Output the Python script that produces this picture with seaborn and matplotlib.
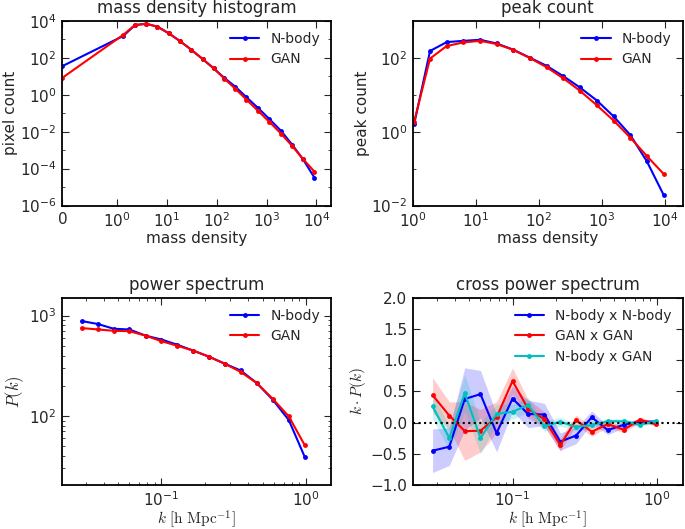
import numpy as np
import matplotlib
matplotlib.use("Agg")
import matplotlib.pyplot as plt
import matplotlib.ticker as mticker
import seaborn as sns

# mass density histogram
hist_x = [0, 1.32, 2.26, 3.8, 6.4, 10.8, 18.2, 30.7, 51.6, 85.7, 142, 236, 392, 661, 1120, 1950, 3240, 5370, 9120]
hist_nbody = [35, 1550, 6000, 7100, 4900, 2150, 810, 275, 87, 27.5, 8.1, 2.7, 0.74, 0.20, 0.050, 0.011, 0.0020, 3.2e-4, 3.2e-5]
hist_gan = [8.1, 1800, 6000, 7100, 4900, 2150, 810, 275, 87, 27.5, 7.4, 2.1, 0.55, 0.14, 0.035, 0.0078, 0.0017, 3.3e-4, 6.8e-5]

# peak count
peak_x = [1.04, 1.86, 3.42, 6.3, 11.6, 21.3, 39, 71, 132, 243, 446, 830, 1530, 2820, 5150, 9500]
peak_nbody = [1.6, 154, 268, 290, 310, 246, 167, 102, 61, 32, 15.8, 7.0, 2.6, 0.81, 0.158, 0.0195]
peak_gan = [1.86, 96, 210, 263, 290, 237, 165, 100, 56, 28, 12.9, 5.2, 2.0, 0.69, 0.22, 0.072]

# power spectrum
k = [0.028, 0.0365, 0.0467, 0.060, 0.0776, 0.100, 0.128, 0.166, 0.214, 0.275, 0.353, 0.456, 0.589, 0.76, 0.98]
pk_nbody = [884, 824, 740, 728, 632, 578, 514, 448, 389, 331, 284, 213, 145, 91, 39]
pk_gan = [752, 728, 706, 700, 632, 556, 502, 448, 389, 331, 275, 213, 148, 99, 51]

# cross power spectrum (mean and spread)
cross_nn = [-0.45, -0.386, 0.38, 0.457, -0.168, 0.386, 0.141, 0.13, -0.304, -0.207, 0.087, -0.12, -0.033, 0.016, 0.016]
cross_gg = [0.44, 0.114, -0.136, -0.13, 0.087, 0.668, 0.223, 0.054, -0.359, 0.043, -0.147, -0.022, -0.114, 0.049, -0.027]
cross_ng = [0.26, -0.245, 0.473, -0.245, 0.141, 0.174, 0.283, -0.06, 0.016, -0.07, -0.038, 0.022, 0.022, -0.033, 0.022]
err_nn = [0.35, 0.3, 0.5, 0.38, 0.3, 0.2, 0.22, 0.18, 0.14, 0.13, 0.1, 0.07, 0.05, 0.04, 0.03]
err_gg = [0.28, 0.22, 0.47, 0.34, 0.25, 0.21, 0.15, 0.12, 0.1, 0.08, 0.07, 0.05, 0.05, 0.04, 0.03]
err_ng = [0.2, 0.2, 0.3, 0.25, 0.15, 0.12, 0.12, 0.08, 0.07, 0.06, 0.05, 0.04, 0.04, 0.03, 0.03]

BLUE = (0, 0, 1)
RED = (1, 0, 0)
CYAN = (0, 0.75, 0.75)

sns.set_style("ticks", {"xtick.direction": "in", "ytick.direction": "in",
                        "axes.edgecolor": "black"})
plt.rcParams['font.family'] = ['DejaVu Sans']
plt.rcParams['xtick.major.size'] = 5
plt.rcParams['ytick.major.size'] = 5
plt.rcParams['xtick.minor.size'] = 2.5
plt.rcParams['ytick.minor.size'] = 2.5
plt.rcParams['axes.linewidth'] = 1.3

fig = plt.figure(figsize=(6.85, 5.29), dpi=100)
ax1 = fig.add_axes([0.0905, 0.6115, 0.3934, 0.3488])
ax2 = fig.add_axes([0.603, 0.6115, 0.3934, 0.3488])
ax3 = fig.add_axes([0.0905, 0.0832, 0.3934, 0.3535])
ax4 = fig.add_axes([0.603, 0.0832, 0.3934, 0.3535])

line_kw = dict(marker='o', markersize=3.5, markeredgewidth=0, linewidth=1.5)
leg_kw = dict(loc='upper right', frameon=False, fontsize=10,
              handlelength=2.1, handletextpad=0.8, borderaxespad=0.4, labelspacing=0.45)


def style_axis(ax):
    ax.tick_params(which='both', top=True, right=True, labelsize=11)
    ax.tick_params(which='major', pad=4)
    for s in ax.spines.values():
        s.set_visible(True)
        s.set_color('black')


# panel 1
sns.lineplot(x=hist_x, y=hist_nbody, ax=ax1, color=BLUE, label='N-body', **line_kw)
sns.lineplot(x=hist_x, y=hist_gan, ax=ax1, color=RED, label='GAN', **line_kw)
ax1.set_xscale('symlog', linthresh=1)
ax1.set_yscale('log')
ax1.set_xlim(0, 2e4)
ax1.set_ylim(1e-6, 1e4)
ax1.set_xticks([0, 1, 10, 100, 1000, 10000])
ax1.xaxis.set_minor_locator(mticker.NullLocator())
ax1.set_yticks([1e-6, 1e-4, 1e-2, 1, 1e2, 1e4])
ax1.yaxis.set_minor_locator(mticker.FixedLocator([1e-5, 1e-3, 1e-1, 10, 1e3]))
ax1.yaxis.set_minor_formatter(mticker.NullFormatter())
ax1.set_title('mass density histogram', fontsize=12)
ax1.set_xlabel('mass density', fontsize=11, labelpad=1)
ax1.set_ylabel('pixel count', fontsize=11, labelpad=1)
ax1.legend(**leg_kw)
style_axis(ax1)

# panel 2
sns.lineplot(x=peak_x, y=peak_nbody, ax=ax2, color=BLUE, label='N-body', **line_kw)
sns.lineplot(x=peak_x, y=peak_gan, ax=ax2, color=RED, label='GAN', **line_kw)
ax2.set_xscale('log')
ax2.set_yscale('log')
ax2.set_xlim(1, 1.9e4)
ax2.set_ylim(1e-2, 1e3)
ax2.set_xticks([1, 10, 100, 1000, 10000])
ax2.xaxis.set_minor_locator(mticker.NullLocator())
ax2.set_yticks([1e-2, 1, 1e2])
ax2.yaxis.set_minor_locator(mticker.FixedLocator([1e-1, 10]))
ax2.yaxis.set_minor_formatter(mticker.NullFormatter())
ax2.set_title('peak count', fontsize=12)
ax2.set_xlabel('mass density', fontsize=11, labelpad=1)
ax2.set_ylabel('peak count', fontsize=11, labelpad=1)
ax2.legend(**leg_kw)
style_axis(ax2)

# panel 3
sns.lineplot(x=k, y=pk_nbody, ax=ax3, color=BLUE, label='N-body', **line_kw)
sns.lineplot(x=k, y=pk_gan, ax=ax3, color=RED, label='GAN', **line_kw)
ax3.set_xscale('log')
ax3.set_yscale('log')
ax3.set_xlim(0.0205, 1.5)
ax3.set_ylim(20.5, 1500)
ax3.set_title('power spectrum', fontsize=12)
ax3.set_xlabel(r'$k\ [\mathrm{h\ Mpc^{-1}}]$', fontsize=11, labelpad=-1, math_fontfamily='cm')
ax3.set_ylabel(r'$P(k)$', fontsize=12, labelpad=2, math_fontfamily='cm')
ax3.legend(**leg_kw)
style_axis(ax3)

# panel 4
for y, err, col, lab in [(cross_nn, err_nn, BLUE, 'N-body x N-body'),
                         (cross_gg, err_gg, RED, 'GAN x GAN'),
                         (cross_ng, err_ng, CYAN, 'N-body x GAN')]:
    y = np.array(y)
    err = np.array(err)
    ax4.fill_between(k, y - err, y + err, color=col, alpha=0.2, linewidth=0)
    sns.lineplot(x=k, y=y, ax=ax4, color=col, label=lab, **line_kw)
ax4.axhline(0, color='black', linestyle=':', linewidth=1.5)
ax4.set_xscale('log')
ax4.set_xlim(0.0205, 1.5)
ax4.set_ylim(-1, 2)
ax4.set_yticks(np.arange(-1, 2.01, 0.5))
ax4.set_title('cross power spectrum', fontsize=12)
ax4.set_xlabel(r'$k\ [\mathrm{h\ Mpc^{-1}}]$', fontsize=11, labelpad=-1, math_fontfamily='cm')
ax4.set_ylabel(r'$k \cdot P(k)$', fontsize=11, labelpad=2, math_fontfamily='cm')
ax4.legend(**leg_kw)
style_axis(ax4)

fig.savefig('out.png', dpi=100)
